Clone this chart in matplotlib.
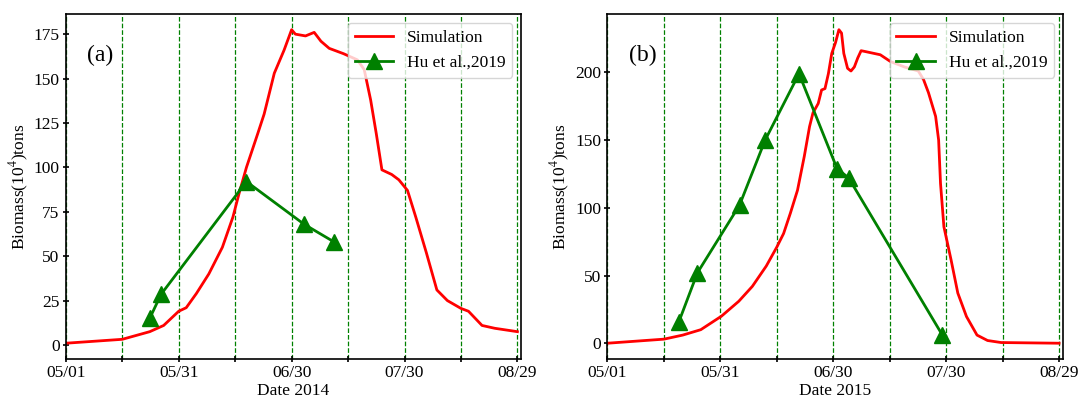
import numpy as np
import matplotlib.pyplot as plt

plt.rcParams['font.family'] = ['Liberation Serif', 'DejaVu Serif']
plt.rcParams['mathtext.fontset'] = 'stix'

# days counted from 05/01
tick_days = [0, 15, 30, 45, 60, 75, 90, 105, 120]
tick_labels = ['05/01', '', '05/31', '', '06/30', '', '07/30', '', '08/29']

# 2014 simulation
sim14_day = [0, 15, 22.3, 26, 30, 32, 34.7, 38, 41.6, 44.4, 46, 48, 51, 52.7, 55.4,
             58, 60, 61, 63.7, 66, 67.8, 70, 73.8, 77.5, 79.3, 81, 82.5, 84, 86.6,
             88.5, 90.8, 93, 95.8, 98.6, 101.4, 105, 107, 110.6, 114, 120]
sim14_val = [1, 3.2, 7.5, 11, 19, 21, 29, 40, 55, 72, 85, 100, 119, 130, 153,
             166, 177.5, 175, 174, 176, 171, 167, 164, 160.5, 155, 138, 119, 98.6, 96,
             93, 87, 72, 52, 31, 25, 20.6, 19, 11, 9.4, 7.5]
# 2014 Hu et al., 2019
hu14_day = [22.3, 25.3, 48, 63.3, 71.3]
hu14_val = [15, 28.5, 92, 68, 58]

# 2015 simulation
sim15_day = [0, 15, 20, 24.8, 30.3, 34.9, 38.5, 42.2, 45, 46.8, 48.6, 50.5, 52.3, 53.7,
             54.6, 56, 56.9, 57.8, 58.7, 59.6, 60.6, 61.5, 62.2, 62.8, 63.8, 64.7, 65.6,
             66.5, 67.4, 68.3, 72.5, 75.2, 78.9, 82.6, 84, 85.3, 87.2, 88, 88.5, 89.4,
             91.3, 93.1, 95.4, 98.2, 101, 104.6, 120]
sim15_val = [0, 3, 6, 10, 20, 31, 42, 57, 71, 81, 96, 113, 138, 160,
             170, 177, 187, 188, 199, 214, 222, 231.5, 229, 214, 203, 201, 204,
             210.6, 216, 215.5, 213, 208, 204, 201, 194.6, 185, 167.5, 150, 118, 86,
             61.6, 37, 19.7, 6, 2, 0.5, 0]
# 2015 Hu et al., 2019
hu15_day = [19, 23.9, 35.1, 41.9, 50.9, 61, 64.1, 89]
hu15_val = [16, 52, 102, 150, 199, 129, 122, 6]

panels = [
    ('(a)', 'Date 2014', sim14_day, sim14_val, hu14_day, hu14_val),
    ('(b)', 'Date 2015', sim15_day, sim15_val, hu15_day, hu15_val),
]

fig = plt.figure(figsize=(10.79, 4.01), dpi=100)
lefts = [0.061, 0.563]
for (tag, xlab, sd, sv, hd, hv), left in zip(panels, lefts):
    ax = fig.add_axes([left, 0.105, 0.422, 0.86])
    for d in tick_days:
        ax.axvline(d, color='green', linestyle='--', linewidth=0.9, zorder=0)
    ax.plot(sd, sv, color='red', linewidth=2, label='Simulation')
    ax.plot(hd, hv, color='green', linewidth=2, marker='^', markersize=11,
            label='Hu et al.,2019')
    ax.set_xlim(0, 121)
    ax.set_xticks(tick_days)
    ax.set_xticklabels(tick_labels)
    ax.tick_params(labelsize=12.5, width=1.2, length=5, direction='inout', pad=2)
    ax.set_xlabel(xlab, fontsize=12.5, labelpad=1)
    ax.set_ylabel('Biomass(10$^4$)tons', fontsize=12.5, labelpad=2)
    ax.text(0.047, 0.88, tag, transform=ax.transAxes, fontsize=17, va='center')
    for s in ax.spines.values():
        s.set_linewidth(1.2)
    ax.legend(loc='upper right', fontsize=12.5, handlelength=2.2)

fig.savefig('out.png', dpi=100)
